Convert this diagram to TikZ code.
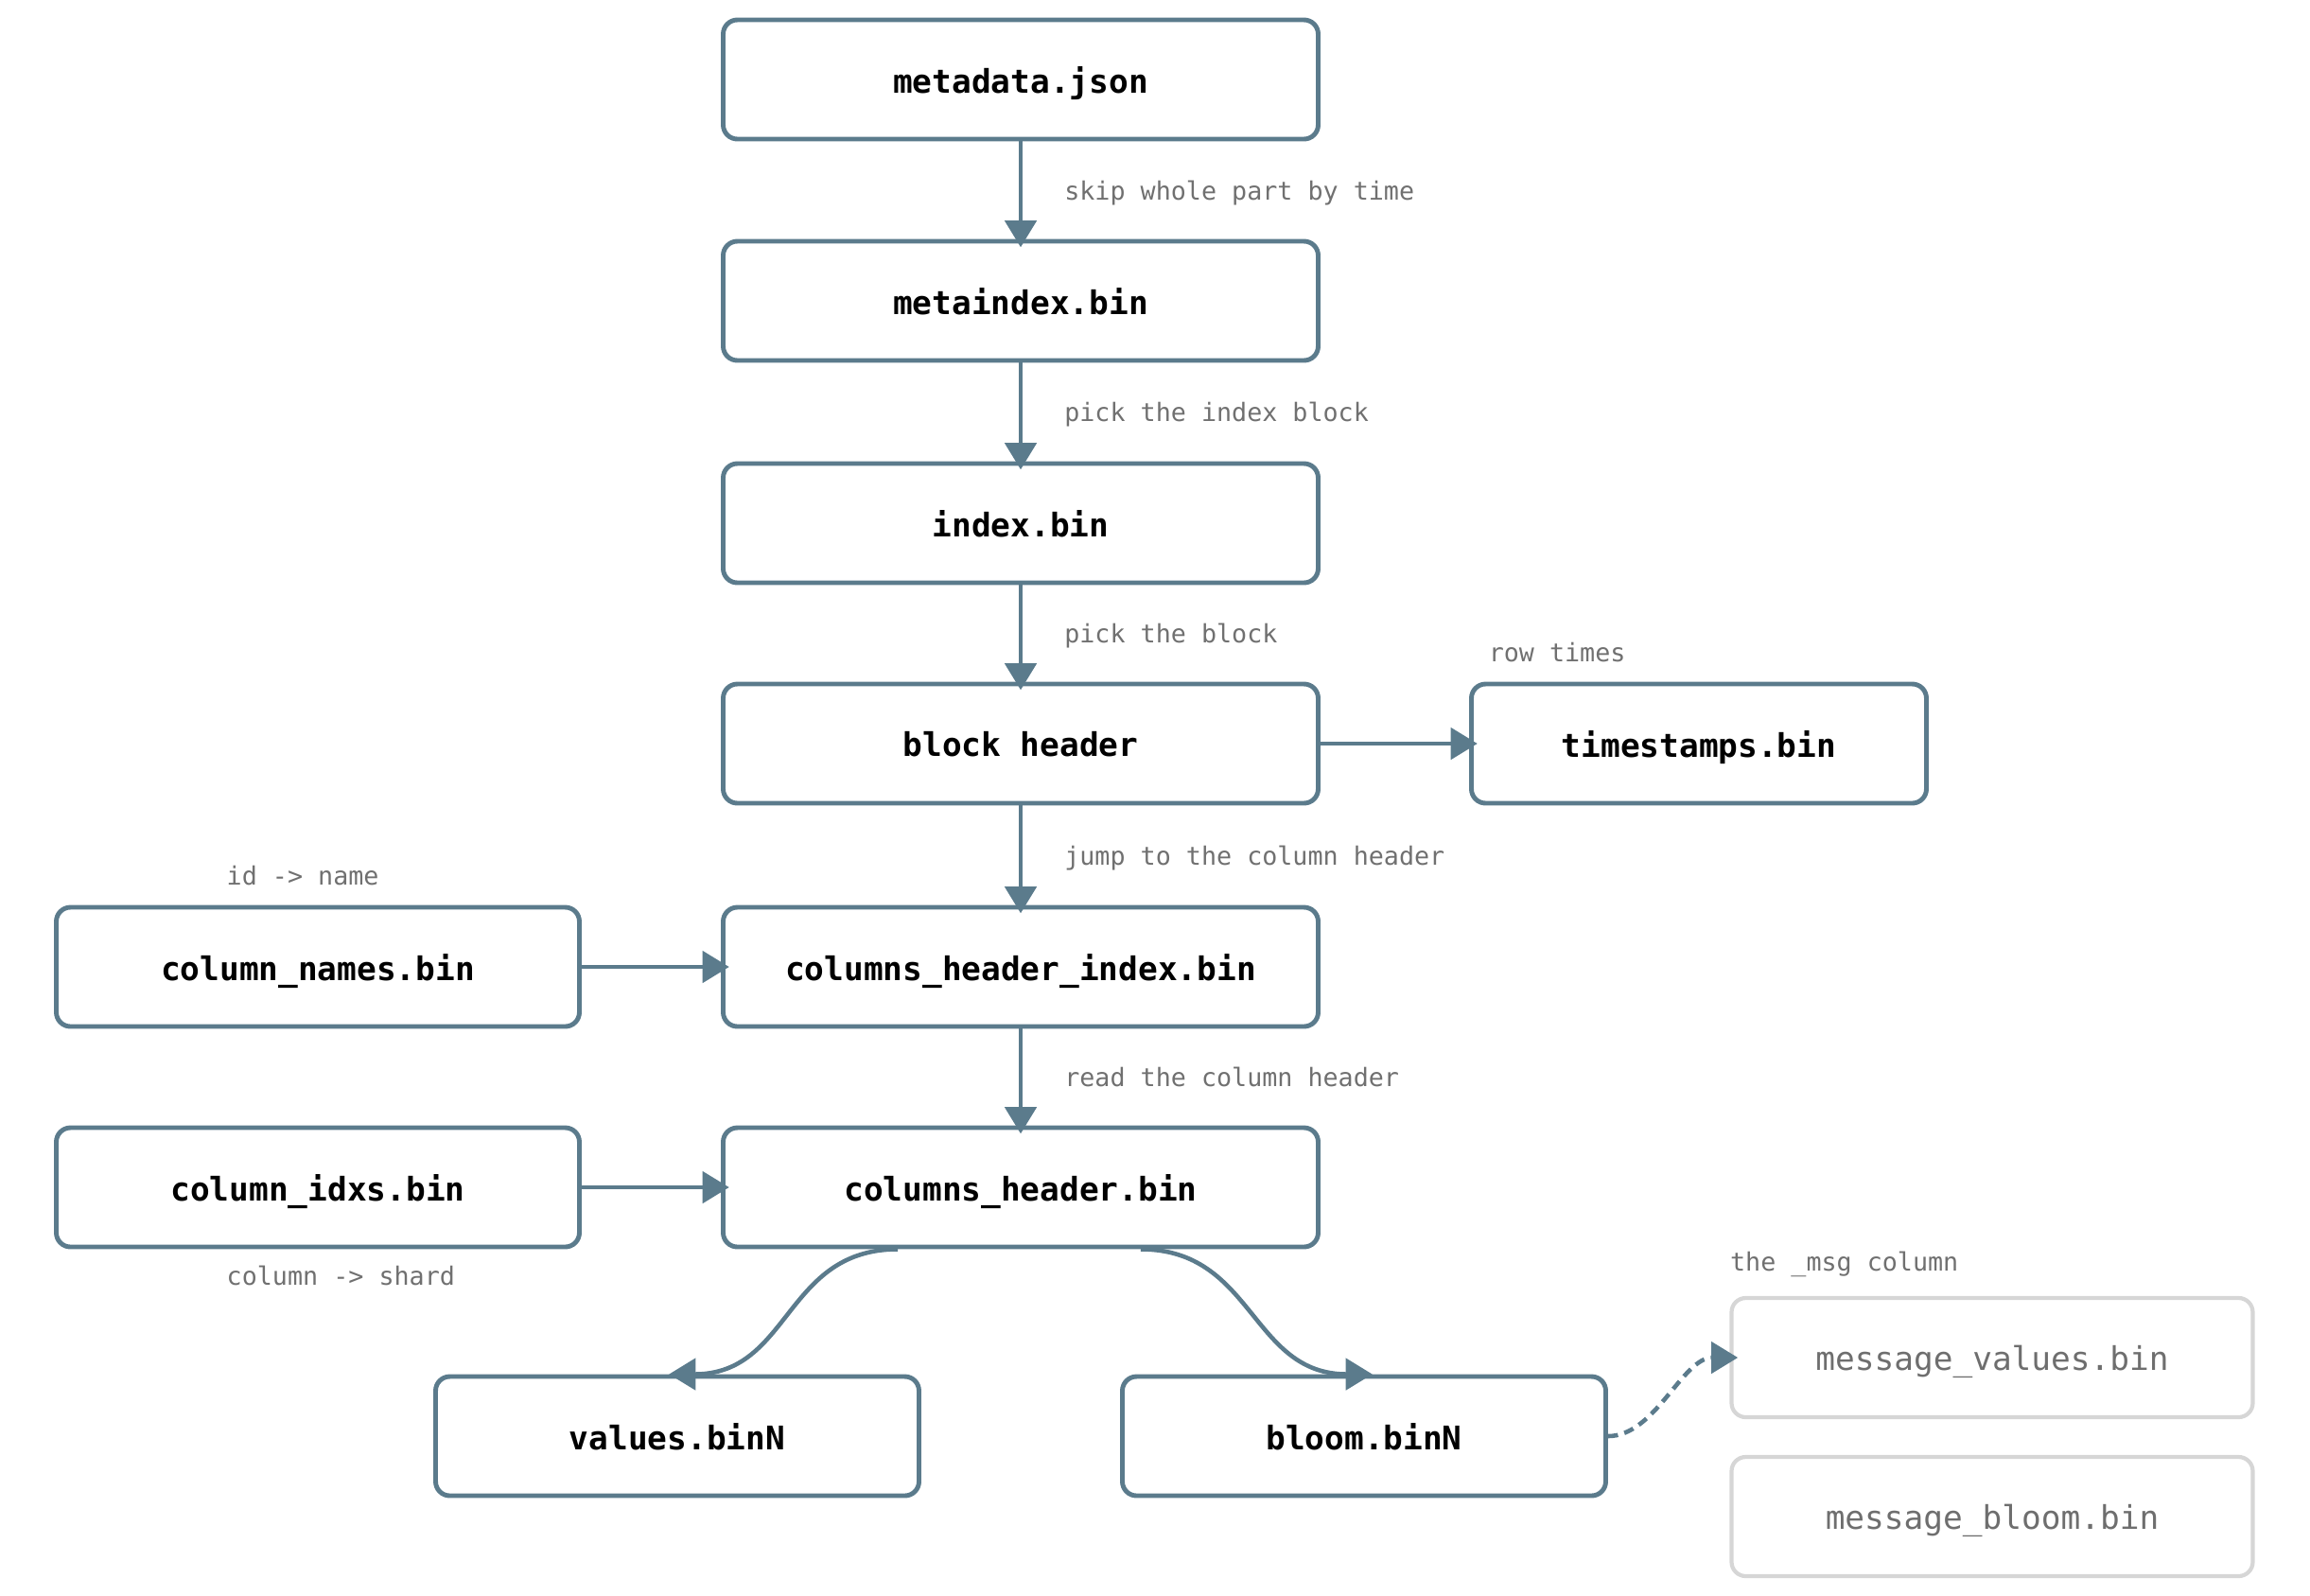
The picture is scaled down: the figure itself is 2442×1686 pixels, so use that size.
\documentclass[tikz,border=0pt]{standalone}
\usepackage{fontspec}
\setmonofont{DejaVu Sans Mono}
\usetikzlibrary{arrows.meta,calc}
\definecolor{edge}{HTML}{5B7B8C}
\definecolor{notegray}{HTML}{707070}
\definecolor{ghostline}{HTML}{D6D6D6}
\definecolor{ghosttext}{HTML}{6E6E6E}

\begin{document}
\begin{tikzpicture}[x=0.1mm, y=-0.1mm,
  file/.style={draw=edge, line width=1.4pt, rounded corners=1.5mm,
    minimum height=12.6mm, inner sep=0pt, text depth=0pt,
    font=\fontsize{9.8}{12}\selectfont\ttfamily\bfseries},
  ghost/.style={draw=ghostline, line width=1.2pt, rounded corners=1.5mm,
    minimum width=55.1mm, minimum height=12.6mm, inner sep=0pt, text depth=0pt,
    text=ghosttext, font=\fontsize{9.8}{12}\selectfont\ttfamily},
  note/.style={text=notegray, inner sep=0pt, anchor=west, text depth=0pt,
    font=\fontsize{7.6}{9}\selectfont\ttfamily},
  link/.style={draw=edge, line width=1.3pt, shorten >=-2.5pt,
    -{Triangle[length=8pt, width=9.4pt]}},
]
  \useasboundingbox (0,0) rectangle (2442,1686);

  % Main chain
  \node[file, minimum width=62.9mm] (meta)  at (1079, 84)   {metadata.json};
  \node[file, minimum width=62.9mm] (mindex) at (1079, 318) {metaindex.bin};
  \node[file, minimum width=62.9mm] (idx)   at (1079, 553)  {index.bin};
  \node[file, minimum width=62.9mm] (bhdr)  at (1079, 786)  {block header};
  \node[file, minimum width=62.9mm] (chidx) at (1079, 1022) {columns\_header\_index.bin};
  \node[file, minimum width=62.9mm] (chdr)  at (1079, 1255) {columns\_header.bin};

  % Side files
  \node[file, minimum width=48.1mm] (ts)     at (1796, 786)  {timestamps.bin};
  \node[file, minimum width=55.3mm] (cnames) at (336, 1022)  {column\_names.bin};
  \node[file, minimum width=55.3mm] (cidx)   at (336, 1255)  {column\_idxs.bin};
  \node[file, minimum width=51.1mm] (vals)   at (716, 1518)  {values.binN};
  \node[file, minimum width=51.1mm] (bloom)  at (1442, 1518) {bloom.binN};

  % The _msg column
  \node[ghost] (mvals)  at (2106, 1435) {message\_values.bin};
  \node[ghost] (mbloom) at (2106, 1603) {message\_bloom.bin};

  % Side notes
  \node[note] at ($(ts.north west)+(20,-31)$) {row times};
  \node[note] at ($(cnames.north west)+(182,-31)$) {id -> name};
  \node[note] at ($(cidx.south west)+(182,28)$) {column -> shard};
  \node[note] at ($(mvals.north west)+(0,-37)$) {the \_msg column};

  % Connectors
  \draw[link] (meta) -- node[note, xshift=4.4mm] {skip whole part by time} (mindex);
  \draw[link] (mindex) -- node[note, xshift=4.4mm] {pick the index block} (idx);
  \draw[link] (idx) -- node[note, xshift=4.4mm] {pick the block} (bhdr);
  \draw[link] (bhdr) -- node[note, xshift=4.4mm] {jump to the column header} (chidx);
  \draw[link] (chidx) -- node[note, xshift=4.4mm] {read the column header} (chdr);
  \draw[link] (bhdr) -- (ts);
  \draw[link] (cnames) -- (chidx);
  \draw[link] (cidx) -- (chdr);

  % Fan out to the shards
  \draw[link] ($(chdr.south)!0.41!(chdr.south west)$) .. controls +(-120,0) and +(120,0) .. (vals.north);
  \draw[link] ($(chdr.south)!0.4!(chdr.south east)$) .. controls +(120,0) and +(-120,0) .. (bloom.north);
  \draw[link, dash pattern=on 3pt off 2pt] (bloom.east) .. controls +(50,0) and +(-50,0) .. (mvals.west);
\end{tikzpicture}
\end{document}
